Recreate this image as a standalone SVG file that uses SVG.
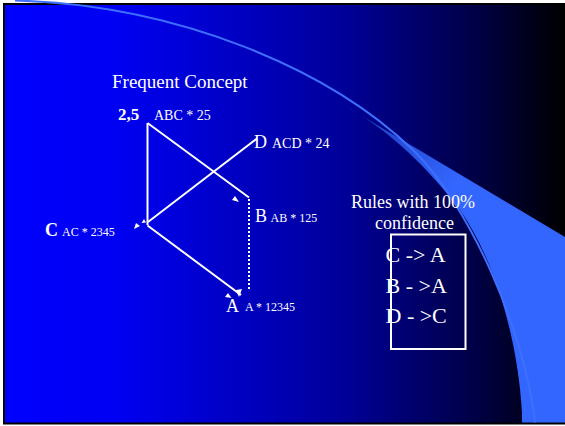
<svg xmlns="http://www.w3.org/2000/svg" width="565" height="426" viewBox="0 0 565 426">
<defs>
<linearGradient id="bg" x1="5" y1="0" x2="565" y2="0" gradientUnits="userSpaceOnUse">
<stop offset="0" stop-color="#0000ff"/>
<stop offset="0.2" stop-color="#0000f2"/>
<stop offset="0.6" stop-color="#00009a"/>
<stop offset="0.85" stop-color="#000042"/>
<stop offset="1" stop-color="#000000"/>
</linearGradient>
<linearGradient id="sw" x1="342" y1="104" x2="450" y2="190" gradientUnits="userSpaceOnUse">
<stop offset="0" stop-color="#1a35b0"/>
<stop offset="1" stop-color="#3366ff"/>
</linearGradient>
<style>
text{font-family:"Liberation Serif","Times New Roman",serif;fill:#ffffff}
.big{font-size:18px}
.small{font-size:12px}
.mid{font-size:14px}
.bold{font-weight:bold}
.line{stroke:#ffffff;stroke-width:2;fill:none}
.dot{stroke:#ffffff;stroke-width:2;fill:none;stroke-dasharray:2,2}
.head{fill:#ffffff}
.rule{font-size:22px}
</style>
</defs>
<rect x="0" y="0" width="565" height="426" fill="#ffffff"/>
<rect x="3" y="3" width="562" height="421.5" fill="#000000"/>
<rect x="5" y="5" width="560" height="417.5" fill="url(#bg)"/>
<path d="M342,104 L565,237 L565,422.5 L522,422.5 L522,413 C518,340 495,260 460,210 C430,170 390,130 342,104 Z" fill="url(#sw)"/>
<path d="M15,0.5 C180,5 330,70 413,150 C468,203 525,330 535,422.5" fill="none" stroke="#3f6fff" stroke-width="2"/>

<g id="title">
<text x="112" y="88" style="font-size:19px">Frequent Concept</text>
</g>

<g id="connectors">
<line class="line" x1="147.5" y1="123" x2="147.5" y2="225"/>
<line class="line" x1="147.5" y1="123" x2="249" y2="197.5"/>
<line class="line" x1="148" y1="222" x2="257" y2="138.5"/>
<line class="line" x1="147.5" y1="225.5" x2="241" y2="295"/>
<line class="dot" x1="249" y1="199" x2="249" y2="289"/>
<polygon class="head" points="134,229 136,223 140,226"/>
<polygon class="head" points="141.5,223 144,219 146,222.5"/>
<polygon class="head" points="239,202 232,200 235,196"/>
<polygon class="head" points="239,297 236,290 242,289"/>
<polygon class="head" points="231.5,298 225,297 228,293"/>
</g>

<g id="node-abc">
<text x="118" y="120" class="bold" style="font-size:17px">2,5</text>
<text x="154" y="120" class="mid">ABC * 25</text>
</g>
<g id="node-d">
<text x="254" y="148" class="big">D</text>
<text x="272" y="148" class="mid">ACD * 24</text>
</g>
<g id="node-b">
<text x="255" y="222" class="big">B</text>
<text x="270.5" y="222" class="small">AB * 125</text>
</g>
<g id="node-c">
<text x="45" y="236" class="big bold">C</text>
<text x="62" y="236" class="small">AC * 2345</text>
</g>
<g id="node-a">
<text x="226" y="312" class="big">A</text>
<text x="245" y="311" class="small">A * 12345</text>
</g>

<g id="rules">
<text x="413" y="207.5" text-anchor="middle" style="font-size:18px">Rules with 100%</text>
<text x="414.5" y="229" text-anchor="middle" style="font-size:18px">confidence</text>
<rect x="391" y="234.5" width="74.5" height="114.5" fill="none" stroke="#ffffff" stroke-width="2"/>
<text x="385.5" y="262" class="rule">C -&gt; A</text>
<text x="385.5" y="293" class="rule">B - &gt;A</text>
<text x="385.5" y="323" class="rule">D - &gt;C</text>
</g>
</svg>
